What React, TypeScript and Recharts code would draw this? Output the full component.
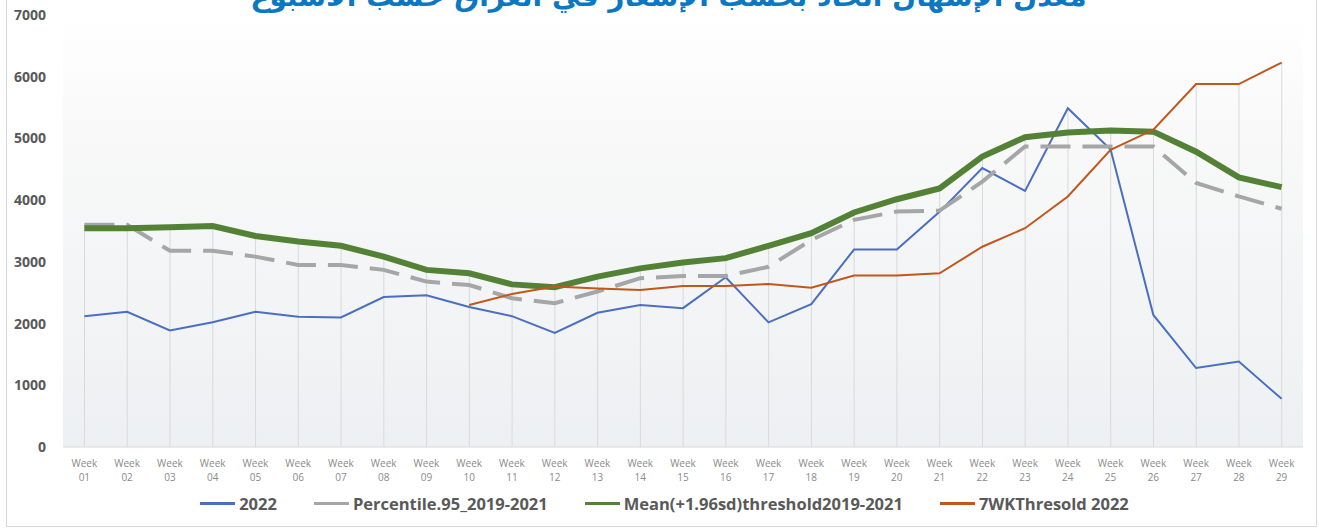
import React from "react";
import { ComposedChart, Line, Bar, XAxis, YAxis, CartesianGrid } from "recharts";

const weeks = [
  "01", "02", "03", "04", "05", "06", "07", "08", "09", "10",
  "11", "12", "13", "14", "15", "16", "17", "18", "19", "20",
  "21", "22", "23", "24", "25", "26", "27", "28", "29",
];

const cases2022 = [
  2120, 2190, 1890, 2020, 2190, 2110, 2100, 2430, 2460, 2270,
  2120, 1850, 2175, 2300, 2250, 2750, 2020, 2315, 3200, 3200,
  3810, 4520, 4150, 5490, 4820, 2140, 1280, 1385, 780,
];

const percentile95 = [
  3600, 3600, 3180, 3180, 3085, 2950, 2950, 2870, 2680, 2625,
  2410, 2330, 2520, 2735, 2770, 2770, 2920, 3355, 3680, 3815,
  3830, 4300, 4870, 4870, 4870, 4870, 4280, 4060, 3860,
];

const meanThreshold = [
  3545, 3545, 3560, 3580, 3420, 3330, 3260, 3085, 2870, 2815,
  2635, 2590, 2760, 2895, 2990, 3060, 3260, 3465, 3800, 4015,
  4190, 4705, 5020, 5095, 5130, 5110, 4785, 4370, 4210,
];

const sevenWeek: (number | null)[] = [
  null, null, null, null, null, null, null, null, null, 2300,
  2480, 2600, 2570, 2545, 2610, 2610, 2640, 2580, 2780, 2780,
  2815, 3245, 3545, 4060, 4815, 5140, 5880, 5880, 6230,
];

const yTicks = [0, 1000, 2000, 3000, 4000, 5000, 6000, 7000];

const title = "معدل الإسهال الحاد بحسب الإشعار في العراق حسب الأسبوع";

const SERIES = [
  { key: "y2022", name: "2022", color: "#4a6fc1", width: 2, dash: undefined as string | undefined },
  { key: "p95", name: "Percentile.95_2019-2021", color: "#a6a6a6", width: 4, dash: "30 12" },
  { key: "mean", name: "Mean(+1.96sd)threshold2019-2021", color: "#538135", width: 6, dash: undefined },
  { key: "wk7", name: "7WKThresold 2022", color: "#c0571c", width: 2, dash: undefined },
];

const chartData = weeks.map((w, i) => {
  const vals = [cases2022[i], percentile95[i], meanThreshold[i], sevenWeek[i] ?? 0];
  return {
    week: w,
    y2022: cases2022[i],
    p95: percentile95[i],
    mean: meanThreshold[i],
    wk7: sevenWeek[i],
    peak: Math.max(...vals),
  };
});

const WeekTick = ({ x, y, payload }: any) => (
  <text x={x} y={y} textAnchor="middle" fill="#8a8a8a" fontSize={10} fontFamily="Open Sans">
    <tspan x={x} dy={12}>Week</tspan>
    <tspan x={x} dy={14}>{payload.value}</tspan>
  </text>
);

export default function App() {
  return (
    <div
      style={{
        position: "fixed",
        top: 0,
        left: 0,
        width: 1319,
        height: 528,
        background: "#fff",
        overflow: "hidden",
        fontFamily: "Open Sans",
      }}
    >
      <div
        style={{
          position: "absolute",
          left: 6,
          top: -10,
          width: 1309,
          height: 535,
          border: "1px solid #d9d9d9",
        }}
      />
      <div
        dir="rtl"
        style={{
          position: "absolute",
          top: -20,
          left: 0,
          width: 1319,
          paddingLeft: 18,
          boxSizing: "border-box",
          textAlign: "center",
          color: "#0b78c1",
          fontFamily: "DejaVu Sans",
          fontWeight: "bold",
          fontSize: 28,
          whiteSpace: "nowrap",
        }}
      >
        {title}
      </div>
      <ComposedChart
        width={1319}
        height={528}
        data={chartData}
        margin={{ top: 15, right: 16, left: 0, bottom: 45 }}
        style={{ position: "absolute", top: 0, left: 0 }}
      >
        <defs>
          <linearGradient id="plotBg" x1="0" y1="0" x2="0" y2="1">
            <stop offset="0%" stopColor="#ffffff" />
            <stop offset="25%" stopColor="#f9f9f9" />
            <stop offset="100%" stopColor="#edf0f2" />
          </linearGradient>
        </defs>
        <CartesianGrid horizontal={false} vertical={false} fill="url(#plotBg)" />
        <XAxis
          dataKey="week"
          height={36}
          tickLine={false}
          axisLine={{ stroke: "#d9d9d9" }}
          tick={<WeekTick />}
          interval={0}
        />
        <YAxis
          width={63}
          domain={[0, 7000]}
          ticks={yTicks}
          axisLine={false}
          tickLine={false}
          tickSize={6}
          tickMargin={11}
          tick={{ fill: "#595959", fontSize: 14, fontWeight: "bold", fontFamily: "Open Sans" }}
        />
        <Bar dataKey="peak" barSize={1} fill="#d9d9d9" isAnimationActive={false} legendType="none" />
        {SERIES.map((s) => (
          <Line
            key={s.key}
            type="linear"
            dataKey={s.key}
            name={s.name}
            stroke={s.color}
            strokeWidth={s.width}
            strokeDasharray={s.dash}
            dot={false}
            activeDot={false}
            isAnimationActive={false}
          />
        ))}
      </ComposedChart>
      <div
        style={{
          position: "absolute",
          top: 492,
          left: 0,
          width: 1319,
          display: "flex",
          justifyContent: "center",
          gap: 37,
          paddingLeft: 10,
          boxSizing: "border-box",
        }}
      >
        {SERIES.map((s) => (
          <div key={s.key} style={{ display: "flex", alignItems: "center" }}>
            <div style={{ width: 35, height: 3, background: s.color, marginRight: 4 }} />
            <span style={{ color: "#595959", fontWeight: "bold", fontSize: 16.5 }}>{s.name}</span>
          </div>
        ))}
      </div>
    </div>
  );
}
